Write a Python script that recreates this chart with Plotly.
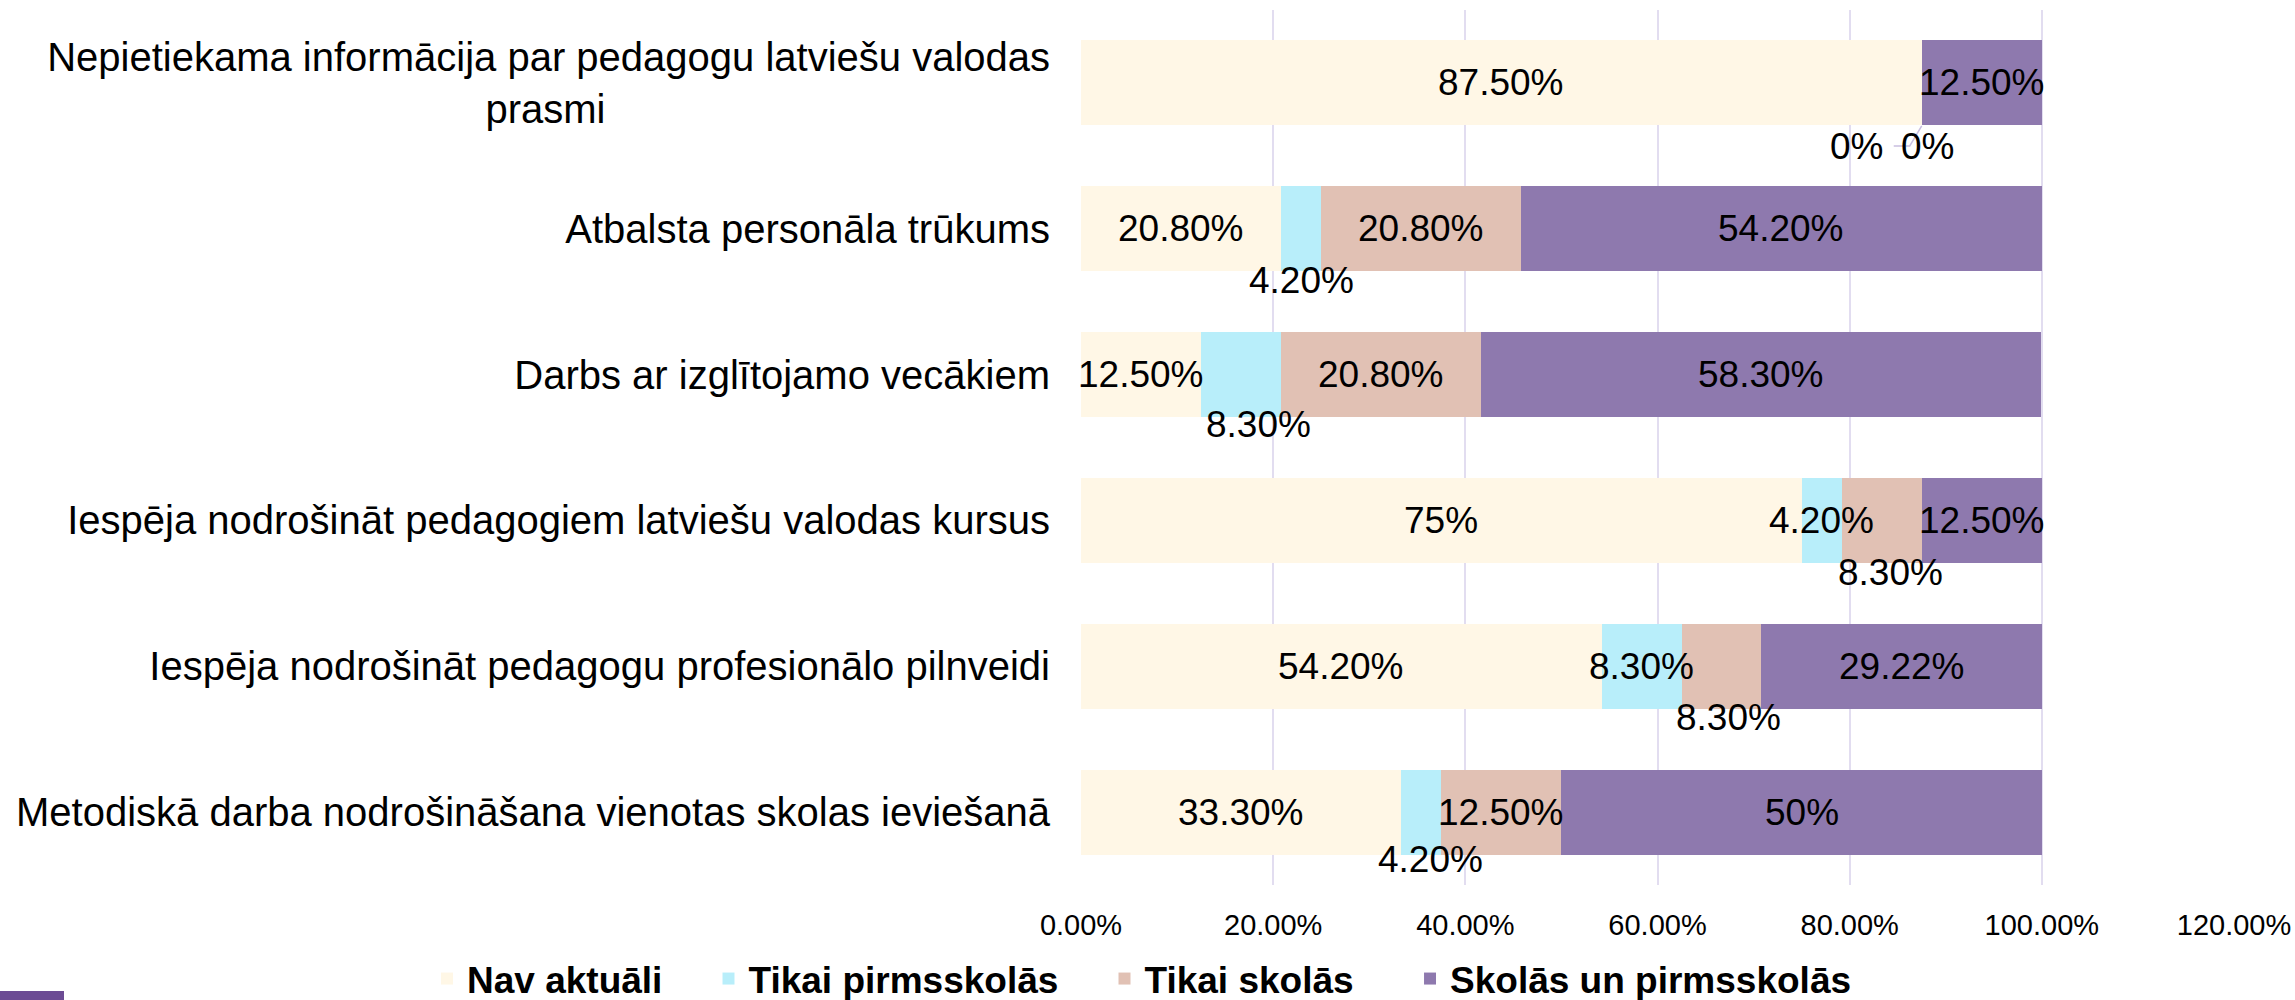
import plotly.graph_objects as go

# ---------------- data ----------------
categories = [
    "Nepietiekama informācija par pedagogu latviešu valodas prasmi",
    "Atbalsta personāla trūkums",
    "Darbs ar izglītojamo vecākiem",
    "Iespēja nodrošināt pedagogiem latviešu valodas kursus",
    "Iespēja nodrošināt pedagogu profesionālo pilnveidi",
    "Metodiskā darba nodrošināšana vienotas skolas ieviešanā",
]
series_names = ["Nav aktuāli", "Tikai pirmsskolās", "Tikai skolās", "Skolās un pirmsskolās"]
nav_aktuali = [87.5, 20.8, 12.5, 75, 54.2, 33.3]
tikai_pirmsskolas = [0, 4.2, 8.3, 4.2, 8.3, 4.2]
tikai_skolas = [0, 20.8, 20.8, 8.3, 8.3, 12.5]
skolas_un_pirmsskolas = [12.5, 54.2, 58.3, 12.5, 29.22, 50]
x_tick_values = [0, 0.2, 0.4, 0.6, 0.8, 1.0, 1.2]

# ---------------- styles ----------------
colors = ["#FFF7E6", "#B8EEFA", "#E1C1B4", "#8E79AE"]
FONT = "Liberation Sans, Arial, sans-serif"

# display form of the category labels (line break as in the original)
display_labels = list(categories)
display_labels[0] = ("Nepietiekama informācija par pedagogu latviešu valodas<br>prasmi"
                     + "\u00a0" * 40)

# extra spacing after each legend entry (non-breaking spaces)
legend_pad = [4, 4, 5, 0]

# pixel nudges of data labels that the original moved out of the bar (series, row) -> (dx, dy)
label_nudges = {
    (1, 0): (-65, -64), (2, 0): (6, -64),
    (1, 1): (0, -52),
    (1, 2): (18, -50),
    (2, 3): (9, -52),
    (2, 4): (7, -51),
    (1, 5): (9, -47),
}

series_values = [nav_aktuali, tikai_pirmsskolas, tikai_skolas, skolas_un_pirmsskolas]


def fmt(v):
    return f"{int(v)}%" if float(v).is_integer() else f"{v:.2f}%"


fig = go.Figure()
for name, vals, col, pad in zip(series_names, series_values, colors, legend_pad):
    fig.add_trace(go.Bar(
        y=display_labels, x=[v / 100 for v in vals], name=name + "\u00a0" * pad,
        orientation="h",
        marker=dict(color=col, line=dict(width=0)), hoverinfo="skip",
    ))

annotations = []
for j, lab in enumerate(display_labels):
    cum = 0.0
    for i, vals in enumerate(series_values):
        v = vals[j]
        xc = (cum + v / 2) / 100
        dx, dy = label_nudges.get((i, j), (0, 0))
        annotations.append(dict(
            x=xc, y=lab, xref="x", yref="y", text=fmt(v), showarrow=False,
            font=dict(family=FONT, size=37, color="#000000"),
            xshift=dx, yshift=dy,
        ))
        cum += v

# plot area geometry (pixels) used to place the legend and the decorative corner bar
L, R, T, B = 1081, 61, 10, 115
W, H = 2295, 1000
pw, ph = W - L - R, H - T - B


def px_x(p):
    return (p - L) / pw


def px_y(p):
    return (H - B - p) / ph


first_cum = nav_aktuali[0] / 100
shapes = [
    # leader line for the relocated zero labels of the first row
    dict(type="path", xref="x", yref="y", xsizemode="pixel", ysizemode="pixel",
         xanchor=first_cum, yanchor=display_labels[0],
         path="M 0,-43 L -12,-63 L -28,-63",
         line=dict(color="#C9BFE0", width=1.5)),
    # decorative bar in the bottom-left corner of the slide
    dict(type="rect", xref="paper", yref="paper",
         x0=px_x(0), x1=px_x(64), y0=px_y(1000), y1=px_y(991),
         fillcolor="#6C4B94", line=dict(width=0)),
]

fig.update_layout(
    width=W, height=H,
    barmode="stack", bargap=0.417,
    paper_bgcolor="white", plot_bgcolor="white",
    margin=dict(l=L, r=R, t=T, b=B, autoexpand=False),
    font=dict(family=FONT, color="#000000"),
    showlegend=True,
    legend=dict(
        orientation="h", traceorder="normal",
        xref="paper", x=px_x(427), xanchor="left",
        yref="paper", y=px_y(979), yanchor="middle",
        bgcolor="rgba(0,0,0,0)",
        font=dict(family=FONT, size=37, color="#000000", weight="bold"),
        itemwidth=30,
    ),
    annotations=annotations,
    shapes=shapes,
)
fig.update_xaxes(
    range=[0, 1.2], tickvals=x_tick_values, tickformat=".2%",
    showgrid=True, gridcolor="#E2DDF0", gridwidth=1.5,
    zeroline=False, showline=False, ticks="",
    tickfont=dict(family=FONT, size=29, color="#000000"),
    ticklabelstandoff=20,
)
fig.update_yaxes(
    range=[len(categories) - 0.5, -0.5], autorange=False,
    showgrid=False, zeroline=False, showline=False, ticks="",
    tickfont=dict(family=FONT, size=40, color="#000000"),
    ticklabelstandoff=30,
)

fig.write_html(
    "out.html",
    config={"displayModeBar": False},
    post_script="document.body.style.margin='0';document.body.style.padding='0';"
                "document.body.style.overflow='hidden';",
)
